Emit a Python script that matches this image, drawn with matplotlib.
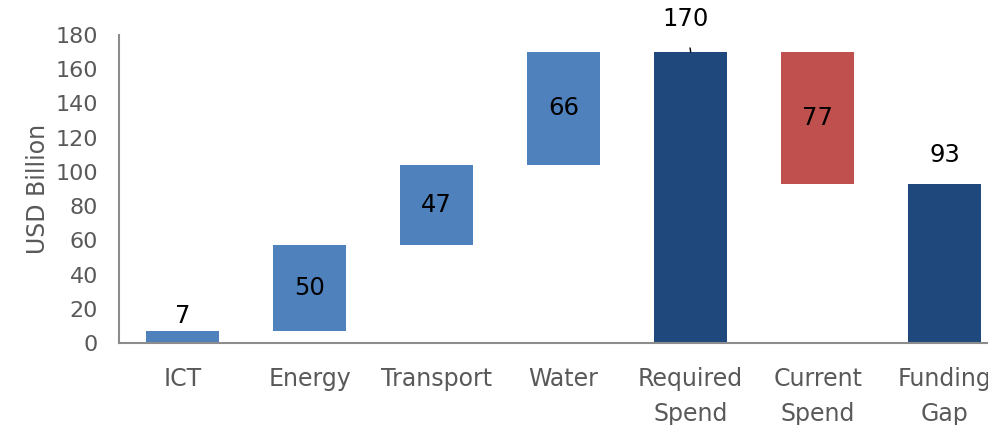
import numpy as np
import matplotlib.pyplot as plt

categories = ["ICT", "Energy", "Transport", "Water", "Required\nSpend", "Current\nSpend", "Funding\nGap"]
values = [7, 50, 47, 66, 170, 77, 93]
kinds = ["step", "step", "step", "step", "total", "minus", "total"]

colors = {"step": "#4F81BD", "total": "#1F497D", "minus": "#C0504D"}

# waterfall bottoms from the running total
bottoms = []
running = 0
for v, k in zip(values, kinds):
    if k == "step":
        bottoms.append(running)
        running += v
    elif k == "total":
        bottoms.append(0)
        running = v
    else:
        running -= v
        bottoms.append(running)

plt.rcParams['font.family'] = ['DejaVu Sans']
fig = plt.figure(figsize=(9.88, 4.25), dpi=100)
ax = fig.add_axes([0.1205, 0.193, 0.9, 0.725])

x = np.arange(len(categories))
ax.bar(x, values, bottom=bottoms, width=0.575,
       color=[colors[k] for k in kinds], zorder=2)

ax.set_xlim(-0.5, len(categories) - 0.5)
ax.set_ylim(0, 180)
ax.set_yticks(np.arange(0, 181, 20))
ax.set_xticks(x)
ax.set_xticklabels(categories, fontsize=17, color="#595959", linespacing=1.6)
ax.tick_params(axis='both', length=0, labelcolor="#595959")
ax.tick_params(axis='y', labelsize=16, pad=15)
ax.tick_params(axis='x', pad=17)

for s in ["top", "right"]:
    ax.spines[s].set_visible(False)
for s in ["left", "bottom"]:
    ax.spines[s].set_color("#8C8C8C")
    ax.spines[s].set_linewidth(1.5)

ax.set_ylabel("USD Billion", fontsize=17, color="#595959", labelpad=4)

# value labels
lbl_size = 17.5
for i, (v, b, k) in enumerate(zip(values, bottoms, kinds)):
    if k == "total" and v == max(values):
        ax.annotate(str(v), xy=(i, b + v), xytext=(i - 0.04, b + v + 19),
                    ha='center', va='center', fontsize=lbl_size, color="black",
                    annotation_clip=False,
                    arrowprops=dict(arrowstyle='-', color='black', lw=1,
                                    shrinkA=10, shrinkB=0))
    elif k == "total":
        ax.annotate(str(v), xy=(i, b + v), xytext=(0, 12), textcoords='offset points',
                    ha='center', va='bottom', fontsize=lbl_size, color="black")
    elif v < 15:
        ax.annotate(str(v), xy=(i, b + v), xytext=(0, 2), textcoords='offset points',
                    ha='center', va='bottom', fontsize=lbl_size, color="black")
    else:
        ax.text(i, b + v / 2, str(v), ha='center', va='center', fontsize=lbl_size, color="black")

fig.savefig("out.png", dpi=100)
